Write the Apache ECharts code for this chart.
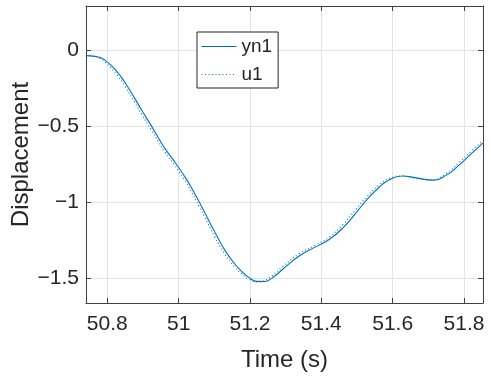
<!DOCTYPE html>
<html>
<head>
<meta charset="utf-8">
<script src="https://cdn.jsdelivr.net/npm/echarts@6/dist/echarts.min.js"></script>
<style>
html,body{margin:0;padding:0;background:#fff;}
#chart{width:491px;height:380px;}
</style>
</head>
<body>
<div id="chart"></div>
<script>
// Time samples (s)
var time = [50.740,50.766,50.780,50.794,50.808,50.830,50.850,50.877,50.897,50.924,50.942,50.961,50.989,51.003,51.023,51.037,51.057,51.073,51.101,51.129,51.157,51.177,51.199,51.219,51.241,51.261,51.292,51.339,51.387,51.423,51.460,51.499,51.529,51.563,51.591,51.627,51.666,51.711,51.751,51.787,51.820,51.853];
// yn1 (solid)
var yn1 = [-0.037,-0.042,-0.050,-0.068,-0.095,-0.150,-0.215,-0.318,-0.398,-0.500,-0.572,-0.645,-0.735,-0.782,-0.853,-0.910,-0.995,-1.067,-1.194,-1.313,-1.404,-1.455,-1.497,-1.520,-1.521,-1.500,-1.440,-1.352,-1.290,-1.243,-1.170,-1.065,-0.980,-0.900,-0.852,-0.828,-0.840,-0.855,-0.822,-0.755,-0.683,-0.612];
// u1 (dotted)
var u1 = [-0.037,-0.044,-0.055,-0.080,-0.112,-0.172,-0.240,-0.346,-0.425,-0.527,-0.598,-0.670,-0.757,-0.806,-0.876,-0.938,-1.025,-1.098,-1.226,-1.340,-1.425,-1.470,-1.508,-1.524,-1.514,-1.485,-1.422,-1.337,-1.279,-1.228,-1.148,-1.042,-0.960,-0.885,-0.843,-0.828,-0.844,-0.852,-0.810,-0.738,-0.666,-0.596];
// Tick values
var xTicks = [50.8, 51, 51.2, 51.4, 51.6, 51.8];
var yTicks = [-1.5, -1, -0.5, 0];

var FONT = '"Liberation Sans", Arial, Helvetica, sans-serif';
var TXT = '#262626';
var AX = '#404040';
var GRID = '#e3e3e3';
var BLUE = '#0072BD';

function fmt(v){ return String(Math.round(v*1000)/1000).replace('-', '\u2212'); }

var chart = echarts.init(document.getElementById('chart'), null, {renderer:'canvas'});
var xRange = {min: 50.7403, max: 51.8533};
var yRange = {min: -1.662, max: 0.289};

chart.setOption({
  animation: false,
  backgroundColor: '#ffffff',
  grid: {left: 86, right: 8, top: 6, bottom: 77, containLabel: false, outerBoundsMode: 'none'},
  legend: {
    orient: 'vertical',
    left: 197, top: 32,
    padding: [5, 6, 4, 4],
    itemWidth: 35, itemHeight: 19, itemGap: 9,
    borderColor: '#262626', borderWidth: 1,
    backgroundColor: '#ffffff',
    itemStyle: {opacity: 0},
    lineStyle: {width: 1},
    textStyle: {fontFamily: FONT, fontSize: 19, color: TXT},
    data: ['yn1', 'u1']
  },
  xAxis: [{
    type: 'value', min: xRange.min, max: xRange.max,
    name: 'Time (s)', nameLocation: 'middle', nameGap: 45, nameMoveOverlap: false,
    nameTextStyle: {fontFamily: FONT, fontSize: 24, color: TXT},
    axisLine: {show: true, onZero: false, lineStyle: {color: AX, width: 1}},
    axisTick: {show: true, inside: true, length: 5, customValues: xTicks, lineStyle: {color: AX}},
    axisLabel: {customValues: xTicks, fontFamily: FONT, fontSize: 21, color: TXT, margin: 11, formatter: fmt},
    splitLine: {show: true, lineStyle: {color: GRID, width: 1}}
  }, {
    type: 'value', min: xRange.min, max: xRange.max, position: 'top',
    axisLine: {show: true, onZero: false, lineStyle: {color: AX, width: 1}},
    axisTick: {show: true, inside: true, length: 5, customValues: xTicks, lineStyle: {color: AX}},
    axisLabel: {show: false},
    splitLine: {show: false}
  }],
  yAxis: [{
    type: 'value', min: yRange.min, max: yRange.max,
    name: 'Displacement', nameLocation: 'middle', nameGap: 53, nameMoveOverlap: false,
    nameTextStyle: {fontFamily: FONT, fontSize: 24, color: TXT},
    axisLine: {show: true, onZero: false, lineStyle: {color: AX, width: 1}},
    axisTick: {show: true, inside: true, length: 5, customValues: yTicks, lineStyle: {color: AX}},
    axisLabel: {customValues: yTicks, fontFamily: FONT, fontSize: 21, color: TXT, margin: 7, formatter: fmt},
    splitLine: {show: true, lineStyle: {color: GRID, width: 1}}
  }, {
    type: 'value', min: yRange.min, max: yRange.max, position: 'right',
    axisLine: {show: true, onZero: false, lineStyle: {color: AX, width: 1}},
    axisTick: {show: true, inside: true, length: 5, customValues: yTicks, lineStyle: {color: AX}},
    axisLabel: {show: false},
    splitLine: {show: false}
  }],
  series: [{
    name: 'yn1', type: 'line', xAxisIndex: 0, yAxisIndex: 0,
    data: time.map(function(t, i){ return [t, yn1[i]]; }),
    showSymbol: false, symbol: 'none', smooth: 0.5,
    lineStyle: {color: BLUE, width: 1.1, type: 'solid'},
    itemStyle: {color: BLUE}
  }, {
    name: 'u1', type: 'line', xAxisIndex: 0, yAxisIndex: 0,
    data: time.map(function(t, i){ return [t, u1[i]]; }),
    showSymbol: false, symbol: 'none', smooth: 0.5,
    lineStyle: {color: BLUE, width: 1.1, type: [1, 2.5]},
    itemStyle: {color: BLUE}
  }]
});
</script>
</body>
</html>
